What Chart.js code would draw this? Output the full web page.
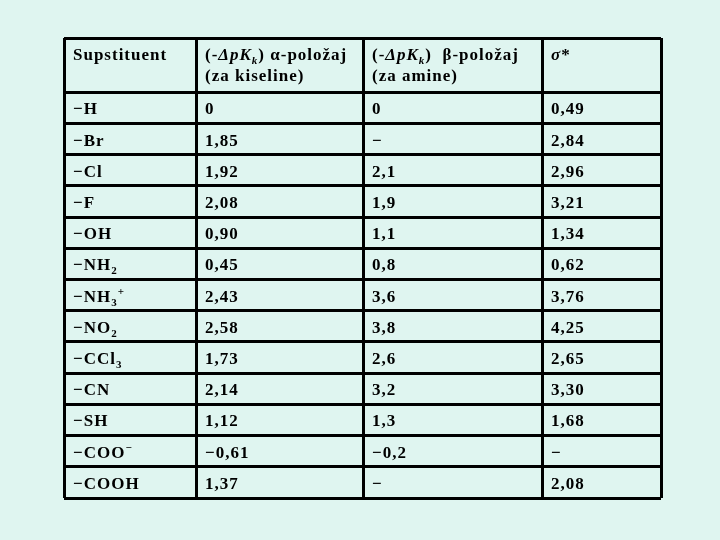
<!DOCTYPE html>
<html>
<head>
<meta charset="utf-8">
<title>Supstituenti</title>
<script src="https://cdn.jsdelivr.net/npm/chart.js@4.4.1/dist/chart.umd.min.js"></script>
<style>
  html, body { margin: 0; padding: 0; background: #dff5f0; }
  #wrap { width: 720px; height: 540px; position: relative; }
</style>
</head>
<body>
<div id="wrap"><canvas id="table"></canvas></div>
<script>
// Header cells (simple markup: <i>, <sub>, <sup>)
const headers = [
  ["Supstituent"],
  ["(-<i>ΔpK</i><sub><i>k</i></sub>) α-položaj", "(za kiseline)"],
  ["(-<i>ΔpK</i><sub><i>k</i></sub>)  β-položaj", "(za amine)"],
  ["<i>σ</i>*"],
];

// Row labels
const substituents = [
  "−H", "−Br", "−Cl", "−F", "−OH", "−NH<sub>2</sub>",
  "−NH<sub>3</sub><sup>+</sup>", "−NO<sub>2</sub>", "−CCl<sub>3</sub>",
  "−CN", "−SH", "−COO<sup>−</sup>", "−COOH",
];

// Values (null = no value, shown as a dash)
const alphaAcids = [0, 1.85, 1.92, 2.08, 0.90, 0.45, 2.43, 2.58, 1.73, 2.14, 1.12, -0.61, 1.37];
const betaAmines = [0, null, 2.1, 1.9, 1.1, 0.8, 3.6, 3.8, 2.6, 3.2, 1.3, -0.2, null];
const sigmaStar = [0.49, 2.84, 2.96, 3.21, 1.34, 0.62, 3.76, 4.25, 2.65, 3.30, 1.68, null, 2.08];

// Layout: column widths (x units) and header height in row units
const colWidths = [132, 167, 179, 119];
const headerRows = 1.74;

const colEdges = colWidths.reduce((acc, w) => acc.concat(acc[acc.length - 1] + w), [0]);
const rowEdges = [0].concat(substituents.map((_, i) => headerRows + i), headerRows + substituents.length);

const FONT = '"Liberation Serif", "Times New Roman", serif';
const SIZE = 17;

// Format a number with comma decimals and a real minus sign
function fmt(v, decimals) {
  if (v === null) return "−";
  if (v === 0) return "0";
  const s = Math.abs(v).toFixed(decimals).replace(".", ",");
  return v < 0 ? "−" + s : s;
}

// Draw text with <i>, <sub>, <sup> runs
function drawRich(ctx, markup, x, y) {
  const parts = markup.split(/(<\/?(?:i|sub|sup)>)/);
  let italic = false, sub = false, sup = false;
  parts.forEach((p) => {
    if (p === "<i>") italic = true;
    else if (p === "</i>") italic = false;
    else if (p === "<sub>") sub = true;
    else if (p === "</sub>") sub = false;
    else if (p === "<sup>") sup = true;
    else if (p === "</sup>") sup = false;
    else if (p) {
      const size = sub || sup ? Math.round(SIZE * 0.65) : SIZE;
      ctx.font = (italic ? "italic " : "") + "bold " + size + "px " + FONT;
      const dy = sub ? 4 : sup ? -7 : 0;
      ctx.fillText(p, x, y + dy);
      x += ctx.measureText(p).width;
    }
  });
}

const tableText = {
  id: "tableText",
  afterDraw(chart) {
    const { ctx } = chart;
    const xs = chart.scales.x;
    const ys = chart.scales.y;
    ctx.save();
    ctx.fillStyle = "#000";
    ctx.textBaseline = "alphabetic";
    ctx.textAlign = "left";
    if ("letterSpacing" in ctx) ctx.letterSpacing = "1px";

    const pad = 9;
    const colX = (c) => xs.getPixelForValue(colEdges[c]) + pad;

    // Header
    const top = ys.getPixelForValue(0);
    headers.forEach((lines, c) => {
      lines.forEach((line, k) => drawRich(ctx, line, colX(c), top + 21.5 + k * 21.5));
    });

    // Body rows
    substituents.forEach((name, i) => {
      const yc = ys.getPixelForValue(headerRows + i + 0.5) + 6.5;
      drawRich(ctx, name, colX(0), yc);
      drawRich(ctx, fmt(alphaAcids[i], 2), colX(1), yc);
      drawRich(ctx, fmt(betaAmines[i], 1), colX(2), yc);
      drawRich(ctx, fmt(sigmaStar[i], 2), colX(3), yc);
    });
    ctx.restore();
  },
};

const gridOpts = { color: "#000", lineWidth: 3, drawTicks: false };

new Chart(document.getElementById("table"), {
  type: "scatter",
  data: { datasets: [] },
  options: {
    responsive: true,
    maintainAspectRatio: false,
    animation: false,
    devicePixelRatio: 1,
    layout: { padding: { left: 64, right: 59, top: 38, bottom: 42 } },
    plugins: { legend: { display: false }, tooltip: { enabled: false } },
    scales: {
      x: {
        type: "linear",
        min: 0,
        max: colEdges[colEdges.length - 1],
        grid: gridOpts,
        border: { display: false },
        ticks: { display: false },
        afterBuildTicks: (scale) => { scale.ticks = colEdges.map((v) => ({ value: v })); },
      },
      y: {
        type: "linear",
        reverse: true,
        min: 0,
        max: rowEdges[rowEdges.length - 1],
        grid: gridOpts,
        border: { display: false },
        ticks: { display: false },
        afterBuildTicks: (scale) => { scale.ticks = rowEdges.map((v) => ({ value: v })); },
      },
    },
  },
  plugins: [tableText],
});
</script>
</body>
</html>
